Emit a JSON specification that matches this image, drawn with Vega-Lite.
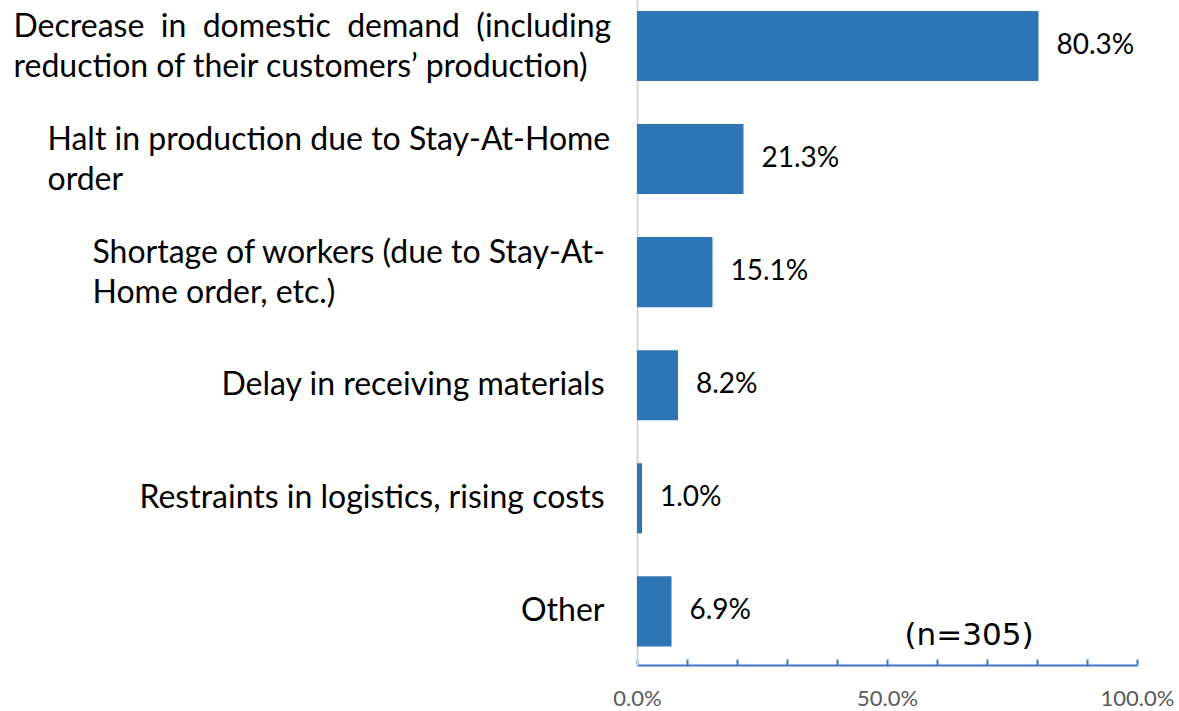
{
  "$schema": "https://vega.github.io/schema/vega-lite/v6.json",
  "autosize": {"type": "none"},
  "width": 500,
  "height": 665,
  "padding": {"left": 637, "top": 0, "right": 42, "bottom": 46},
  "background": "white",
  "config": {"view": {"stroke": null}, "font": "Lato"},
  "data": {"values": [
    {"reason": "Decrease  in  domestic  demand  (including|reduction of their customers’ production)", "pct": 80.3, "label": "80.3%"},
    {"reason": "Halt in production due to Stay-At-Home|order", "pct": 21.3, "label": "21.3%"},
    {"reason": "Shortage of workers (due to Stay-At-|Home order, etc.)", "pct": 15.1, "label": "15.1%"},
    {"reason": "Delay in receiving materials", "pct": 8.2, "label": "8.2%"},
    {"reason": "Restraints in logistics, rising costs", "pct": 1.0, "label": "1.0%"},
    {"reason": "Other", "pct": 6.9, "label": "6.9%"}
  ]},
  "encoding": {
    "y": {
      "field": "reason", "type": "nominal", "sort": null,
      "scale": {"paddingInner": 0.38, "paddingOuter": 0.13, "align": 0.37},
      "axis": {
        "title": null, "ticks": false, "domain": true, "domainColor": "#d9d9d9", "domainWidth": 2,
        "labelExpr": "split(replace(datum.label, /  /g, '\u00a0\u00a0'), '|')", "labelFont": "Lato", "labelFontSize": 32,
        "labelColor": "#000000", "labelLimit": 800, "labelLineHeight": 40,
        "labelAlign": {"condition": {"test": "indexof(datum.value, '|') >= 0", "value": "left"}, "value": "right"},
        "labelOffset": {"condition": {"test": "indexof(datum.value, '|') >= 0", "value": -19}, "value": 0},
        "labelPadding": {"condition": [
          {"test": "indexof(datum.value, 'Decrease') === 0", "value": 624},
          {"test": "indexof(datum.value, 'Halt') === 0", "value": 590},
          {"test": "indexof(datum.value, 'Shortage') === 0", "value": 545}
        ], "value": 33}
      }
    }
  },
  "layer": [
    {
      "mark": {"type": "bar", "color": "#2E75B6"},
      "encoding": {
        "x": {
          "field": "pct", "type": "quantitative",
          "scale": {"domain": [0, 100], "nice": false},
          "axis": {
            "title": null, "grid": false, "values": [0,10,20,30,40,50,60,70,80,90,100],
            "labelExpr": "datum.value % 50 === 0 ? format(datum.value, '.1f') + '%' : ''",
            "domainColor": "#4472C4", "domainWidth": 2, "tickColor": "#4472C4", "tickWidth": 2,
            "tickSize": -6, "labelFontSize": 22, "labelColor": "#595959", "labelFont": "Lato",
            "labelPadding": 29, "labelFlush": false
          }
        }
      }
    },
    {
      "mark": {"type": "text", "align": "left", "dx": 18, "fontSize": 28, "font": "Lato", "color": "#000000"},
      "encoding": {
        "x": {"field": "pct", "type": "quantitative"},
        "text": {"field": "label"}
      }
    },
    {
      "data": {"values": [{"note": "(n=305)"}]},
      "mark": {"type": "text", "fontSize": 31, "font": "DejaVu Sans", "color": "#000000", "dy": 25},
      "encoding": {
        "x": {"datum": 66.4},
        "y": {"datum": "Other"},
        "text": {"field": "note"}
      }
    }
  ]
}
